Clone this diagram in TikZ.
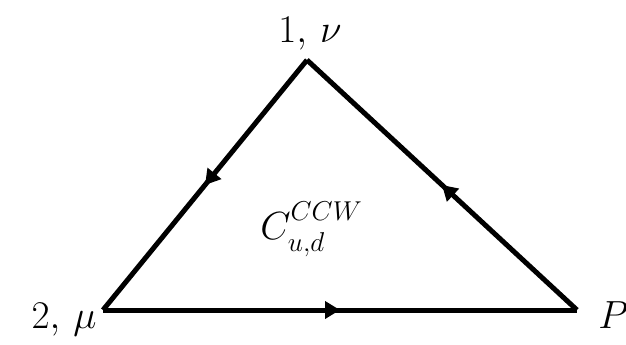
\documentclass[tikz,border=0pt]{standalone}
\usetikzlibrary{arrows.meta,decorations.markings}
\begin{document}
\begin{tikzpicture}[x=1bp,y=1bp,
  edge/.style={line width=5bp, line join=miter, postaction={decorate},
    decoration={markings, mark=at position 0.5 with {\arrow{Triangle[length=15bp,width=17bp]}}}},
  lbl/.style={inner sep=0pt, font=\huge, scale=1.9}]
\useasboundingbox (0,0) rectangle (626,344);
\coordinate (A) at (307,284);
\coordinate (B) at (103,34);
\coordinate (C) at (577,34);
\draw[edge] (A) -- (B);
\draw[edge] (B) -- (C);
\draw[edge] (C) -- (A);
\node[lbl, anchor=base] (la) at (310,302) {$1,\,\nu$};
\node[lbl, anchor=base east] (lb) at (97,16) {$2,\,\mu$};
\node[lbl, anchor=base west] (lc) at (598,16) {$P$};
\node[lbl, anchor=base west] (lC) at (260,105) {$C_{\raisebox{-1.5pt}{$\scriptstyle u,d$}}^{\raisebox{2pt}{$\scriptstyle CCW$}}$};
\end{tikzpicture}
\end{document}
